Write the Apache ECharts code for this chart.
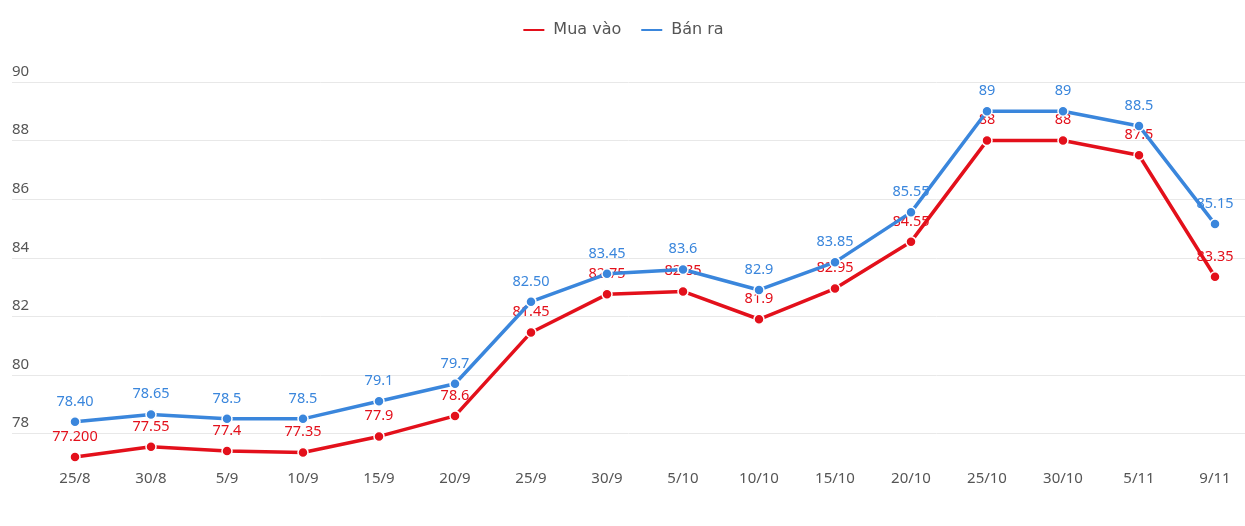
<!DOCTYPE html>
<html>
<head>
<meta charset="utf-8">
<script src="https://cdn.jsdelivr.net/npm/echarts@6/dist/echarts.min.js"></script>
<style>html,body{margin:0;padding:0;background:#fff}#c{width:1245px;height:526px}</style>
</head>
<body>
<div id="c"></div>
<script>
var categories = ['25/8','30/8','5/9','10/9','15/9','20/9','25/9','30/9','5/10','10/10','15/10','20/10','25/10','30/10','5/11','9/11'];
var muaVao = [77.2, 77.55, 77.4, 77.35, 77.9, 78.6, 81.45, 82.75, 82.85, 81.9, 82.95, 84.55, 88, 88, 87.5, 83.35];
var muaVaoLabels = ['77.200','77.55','77.4','77.35','77.9','78.6','81.45','82.75','82.85','81.9','82.95','84.55','88','88','87.5','83.35'];
var banRa = [78.4, 78.65, 78.5, 78.5, 79.1, 79.7, 82.5, 83.45, 83.6, 82.9, 83.85, 85.55, 89, 89, 88.5, 85.15];
var banRaLabels = ['78.40','78.65','78.5','78.5','79.1','79.7','82.50','83.45','83.6','82.9','83.85','85.55','89','89','88.5','85.15'];
var yMin = 78, yMax = 90, yStep = 2;

var RED = '#e3101b', BLUE = '#3a86dc';
var FONT = '"Noto Sans", "Open Sans", sans-serif';
var chart = echarts.init(document.getElementById('c'));
function mkSeries(name, data, labels, color, z) {
  return {
    name: name, type: 'line', data: data, xAxisIndex: 0, yAxisIndex: 0,
    clip: false, z: z,
    symbol: 'circle', symbolSize: 10,
    lineStyle: { color: color, width: 3.5 },
    itemStyle: { color: color, borderColor: '#fff', borderWidth: 1.5 },
    label: {
      show: true, position: 'top', distance: 7,
      color: color, fontSize: 14.5, fontFamily: FONT,
      formatter: function (p) { return labels[p.dataIndex]; }
    },
    emphasis: { disabled: true }
  };
}
chart.setOption({
  animation: false,
  legend: {
    top: 17, left: 'center', itemWidth: 23, itemHeight: 4, itemGap: 18,
    icon: 'roundRect',
    textStyle: { color: '#555', fontSize: 16, fontFamily: '"DejaVu Sans", sans-serif', padding: [0, 0, 0, 3] },
    data: ['Mua vào', 'Bán ra']
  },
  grid: [
    { left: 75, right: 30, top: 82, bottom: 92.5 },
    { left: 12, right: 0, top: 82, bottom: 92.5 }
  ],
  xAxis: [
    { type: 'category', gridIndex: 0, data: categories, boundaryGap: false,
      axisLine: { show: false }, axisTick: { show: false },
      axisLabel: { color: '#555', fontSize: 15, fontFamily: FONT, margin: 38 } },
    { type: 'value', gridIndex: 1, show: false }
  ],
  yAxis: [
    { type: 'value', gridIndex: 0, min: yMin, max: yMax, interval: yStep, show: false },
    { type: 'value', gridIndex: 1, min: yMin, max: yMax, interval: yStep,
      axisLine: { show: false }, axisTick: { show: false },
      splitLine: { lineStyle: { color: '#e8e8e8', width: 1 } },
      axisLabel: { inside: true, margin: 0, color: '#555', fontSize: 15, fontFamily: FONT,
                   verticalAlign: 'bottom', padding: [0, 0, 3, 0] } }
  ],
  series: [
    mkSeries('Mua vào', muaVao, muaVaoLabels, RED, 2),
    mkSeries('Bán ra', banRa, banRaLabels, BLUE, 3)
  ]
});
</script>
</body>
</html>
